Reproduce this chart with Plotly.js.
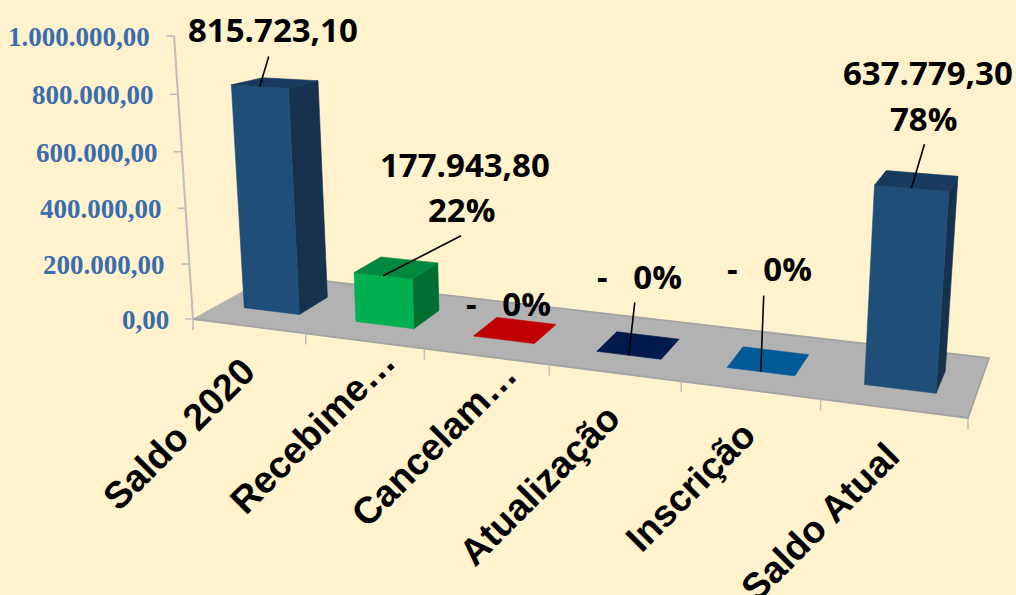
<!DOCTYPE html>
<html>
<head>
<meta charset="utf-8">
<script src="https://cdn.plot.ly/plotly-3.0.1.min.js"></script>
<style>html,body{margin:0;padding:0;background:#FFF2CC;overflow:hidden}</style>
</head>
<body>
<div id="chart" style="width:1016px;height:595px"></div>
<script>
// ---- data ----
const categories = ['Saldo 2020','Recebime…','Cancelam…','Atualização','Inscrição','Saldo Atual'];
const values = [815723.10, 177943.80, 0, 0, 0, 637779.30];
const shares = [null, 22, 0, 0, 0, 78];
const axisTicks = [0, 200000, 400000, 600000, 800000, 1000000];

// ---- style ----
const frontColors = ['#1F4E79','#00B050','#C00000','#002060','#005A96','#1F4E79'];
const sideColors  = ['#17324F','#006F31','#8A0000','#001540','#003F6B','#17324F'];
const topColors   = ['#173A5E','#00893E','#C00000','#00194C','#005A96','#173A5E'];
const BG = '#FFF2CC', FLOOR = '#B2B2B2', EDGE = '#A3A3A3', TICK = '#BDBDBD';

// ---- layout of the 3-D view (pixels of the picture) ----
const corners = {A:[193,319], D:[968,418], C:[989,358], B:[272,275]};
const VANISH = [577,6060];
const BASE_Y = 319, PX_PER_UNIT = 0.000283;
const BAR_GAP = 0.25, BAR_SHIFT = -0.016, DEPTH = [0.31,0.69];
const tickOutX = 8, labelGap = 14;
const labelCentreOffset = [[-70,108],[-52,90],[-52,88],[-75,112],[-59,96],[-73,114]];
const leaderEnd  = [[9,-30],[78,-40],null,[6,-53],[3,-76],[13,-44]];
const valueLabelOffset = [[13,-57],[82,-111],[5,-36],[11,-79],[9,-103],[17,-116]];
const shareLabelOffset = [null,[78,-66],null,null,null,[12,-70]];

// floor homography
const H = (function(){
  const [x0,y0]=corners.A,[x1,y1]=corners.D,[x2,y2]=corners.C,[x3,y3]=corners.B;
  const dx1=x1-x2,dx2=x3-x2,sx=x0-x1+x2-x3,dy1=y1-y2,dy2=y3-y2,sy=y0-y1+y2-y3;
  const det=dx1*dy2-dx2*dy1;
  const g=(sx*dy2-dx2*sy)/det,h=(dx1*sy-sx*dy1)/det;
  return {a:x1-x0+g*x1,b:x3-x0+h*x3,c:x0,d:y1-y0+g*y1,e:y3-y0+h*y3,f:y0,g:g,h:h};
})();
function project(u,w,v){
  const s=u/6, q=H.g*s+H.h*w+1;
  const fx=(H.a*s+H.b*w+H.c)/q, fy=(H.d*s+H.e*w+H.f)/q;
  const k=(4.75+0.154*u-0.57*w)*1e-8;
  const r=k*v/(1-3.65e-8*v);
  return [fx+(fx-VANISH[0])*r, fy+(fy-VANISH[1])*r];
}
// picture pixels -> axis coordinates (y axis is in value units)
const toAxis = p => [p[0], (BASE_Y-p[1])/PX_PER_UNIT];
const shift = (p,o) => [p[0]+o[0], p[1]+o[1]];

const traces=[];
function poly(points,color){
  const a=points.map(toAxis);
  traces.push({type:'scatter',mode:'lines',x:a.map(p=>p[0]).concat(a[0][0]),y:a.map(p=>p[1]).concat(a[0][1]),
    fill:'toself',fillcolor:color,line:{color:color,width:0.6},hoverinfo:'skip',showlegend:false});
}
function line(points,color,width){
  const a=points.map(toAxis);
  traces.push({type:'scatter',mode:'lines',x:a.map(p=>p[0]),y:a.map(p=>p[1]),
    line:{color:color,width:width},hoverinfo:'skip',showlegend:false});
}

// wall axis
line([project(0,0,0),project(0,0,1000000)],TICK,2);
axisTicks.forEach(t=>{const p=project(0,0,t);line([p,shift(p,[-tickOutX,0])],TICK,1.5);});

// floor
poly([project(0,0,0),project(6,0,0),project(6,1,0),project(0,1,0)],FLOOR);
line([project(0,0,0),project(6,0,0),project(6,1,0),project(0,1,0)],EDGE,1.8);
for(let u=0;u<=6;u++){const p=project(u,0,0);line([p,shift(p,[0,11])],TICK,1.5);}

// bars
values.forEach((v,i)=>{
  const u0=i+BAR_GAP+BAR_SHIFT,u1=i+1-BAR_GAP+BAR_SHIFT,w0=DEPTH[0],w1=DEPTH[1];
  if(v>0){
    poly([project(u1,w0,0),project(u1,w1,0),project(u1,w1,v),project(u1,w0,v)],sideColors[i]);
    poly([project(u0,w0,0),project(u1,w0,0),project(u1,w0,v),project(u0,w0,v)],frontColors[i]);
  }
  poly([project(u0,w0,v),project(u1,w0,v),project(u1,w1,v),project(u0,w1,v)],topColors[i]);
});

// leaders
const tips=values.map((v,i)=>project(i+0.5+BAR_SHIFT,DEPTH[0],v));
tips.forEach((t,i)=>{ if(leaderEnd[i]) line([t,shift(t,leaderEnd[i])],'#000000',1.6); });

// texts
const annotations=[];
function txt(p,text,font,angle){
  const a=toAxis(p);
  annotations.push({x:a[0],y:a[1],xref:'x',yref:'y',text:text,showarrow:false,xanchor:'center',yanchor:'middle',
    font:font,textangle:angle||0,borderpad:0,borderwidth:0});
}
const fmt=n=>{const [a,b]=n.toFixed(2).split('.');return a.replace(/\B(?=(\d{3})+$)/g,'.')+','+b;};
const tickFont={family:'"Liberation Serif",serif',size:27,color:'#3A6CAE'};
axisTicks.forEach(t=>{
  const p=project(0,0,t),a=toAxis(shift(p,[-tickOutX-labelGap,1]));
  annotations.push({x:a[0],y:a[1],xref:'x',yref:'y',text:'<b>'+fmt(t)+'</b>',showarrow:false,xanchor:'right',yanchor:'middle',font:tickFont});
});
const labelFont={family:'"Open Sans",sans-serif',size:33,color:'#000000'};
values.forEach((v,i)=>{
  const t=tips[i];
  const s=v>0?fmt(v):'-\u00A0\u00A0\u00A0'+shares[i]+'%';
  txt(shift(t,valueLabelOffset[i]),'<b>'+s+'</b>',labelFont);
  if(shareLabelOffset[i]) txt(shift(t,shareLabelOffset[i]),'<b>'+shares[i]+'%</b>',labelFont);
});
const catFont={family:'"Liberation Sans",sans-serif',size:37.5,color:'#000000'};
categories.forEach((c,i)=>{
  txt(shift(project(i+0.5,0,0),labelCentreOffset[i]),'<b>'+c+'</b>',catFont,-45);
});

const y0=(BASE_Y-595)/PX_PER_UNIT, y1=BASE_Y/PX_PER_UNIT;
Plotly.newPlot('chart',traces,{
  width:1016,height:595,margin:{l:0,r:0,t:0,b:0},
  paper_bgcolor:BG,plot_bgcolor:BG,showlegend:false,
  xaxis:{range:[0,1016],visible:false,fixedrange:true},
  yaxis:{range:[y0,y1],visible:false,fixedrange:true},
  annotations:annotations
},{displayModeBar:false,staticPlot:true});
</script>
</body>
</html>
